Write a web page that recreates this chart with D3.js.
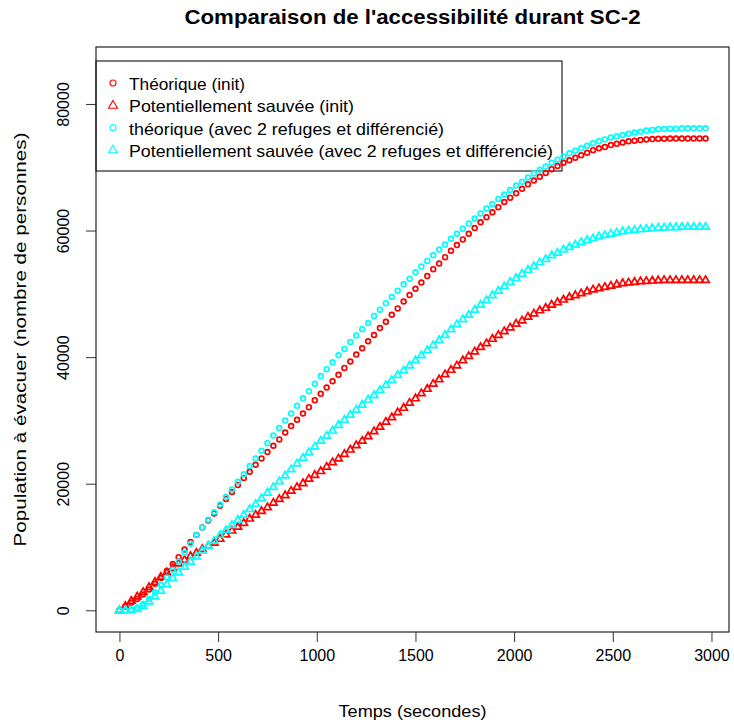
<!doctype html>
<html>
<head>
<meta charset="utf-8">
<script src="https://d3js.org/d3.v7.min.js"></script>
<style>
  body { margin: 0; background: #fff; }
  text { font-family: "Liberation Sans", Arial, sans-serif; fill: #000; }
</style>
</head>
<body>
<svg id="chart" width="734" height="722"></svg>
<script>
// temps (secondes)
var temps = [0,30,60,90,120,150,180,210,240,270,300,330,360,390,420,450,480,510,540,570,
  600,630,660,690,720,750,780,810,840,870,900,930,960,990,1020,1050,1080,1110,1140,1170,
  1200,1230,1260,1290,1320,1350,1380,1410,1440,1470,1500,1530,1560,1590,1620,1650,1680,1710,1740,1770,
  1800,1830,1860,1890,1920,1950,1980,2010,2040,2070,2100,2130,2160,2190,2220,2250,2280,2310,2340,2370,
  2400,2430,2460,2490,2520,2550,2580,2610,2640,2670,2700,2730,2760,2790,2820,2850,2880,2910,2940,2970];

var theoriqueInit = [0,600,1200,1800,2500,3300,4200,5100,6200,7300,8400,9600,10800,11900,13100,14200,15300,16500,17600,18700,
  19800,20900,21900,23000,24000,25000,26000,27000,28100,29100,30100,31100,32100,33200,34200,35200,36200,37200,38300,39300,
  40400,41400,42500,43500,44600,45600,46700,47700,48800,49800,50800,51800,52800,53900,54800,55800,56800,57700,58600,59500,
  60400,61300,62100,62900,63700,64500,65200,65900,66600,67300,67900,68500,69100,69700,70200,70700,71100,71500,71900,72300,
  72700,73000,73200,73500,73700,73900,74100,74200,74300,74400,74450,74500,74500,74550,74550,74550,74550,74550,74550,74550];

var sauveeInit = [0,700,1500,2200,2900,3700,4500,5300,6000,6700,7400,8000,8600,9100,9700,10200,10700,11300,12000,12600,
  13200,13800,14500,15100,15700,16300,17000,17600,18200,18900,19500,20100,20800,21400,22000,22700,23400,24000,24700,25400,
  26100,26800,27500,28300,29000,29800,30500,31300,32000,32800,33500,34300,35000,35800,36500,37300,38000,38700,39500,40200,
  40900,41600,42200,42900,43500,44100,44700,45300,45800,46400,46900,47400,47800,48300,48700,49100,49500,49800,50100,50400,
  50700,50900,51100,51300,51500,51700,51800,51900,52000,52050,52100,52150,52200,52200,52200,52200,52200,52200,52200,52200];

var theoriqueRefuges = [0,0,100,400,1000,1800,2800,4000,5200,6400,7700,9100,10500,11900,13100,14300,15500,16700,17900,19100,
  20300,21500,22800,24000,25200,26400,27600,28800,30000,31100,32300,33500,34600,35800,37000,38100,39200,40300,41300,42400,
  43400,44400,45400,46500,47500,48500,49500,50500,51500,52400,53400,54300,55200,56100,57000,57800,58700,59500,60300,61100,
  61900,62700,63500,64200,65000,65700,66400,67100,67700,68400,69000,69600,70100,70700,71200,71700,72200,72600,73000,73400,
  73800,74100,74400,74700,74900,75100,75300,75500,75600,75800,75900,76000,76050,76100,76100,76150,76150,76150,76150,76150];

var sauveeRefuges = [0,0,0,200,700,1400,2200,3100,4100,5100,6000,6900,7700,8500,9400,10200,11000,11900,12700,13500,
  14300,15100,16000,16800,17700,18600,19500,20400,21300,22300,23200,24100,25000,25900,26800,27600,28400,29300,30100,30900,
  31700,32500,33300,34000,34800,35600,36400,37200,37900,38700,39500,40300,41100,41900,42700,43500,44400,45200,46000,46700,
  47500,48300,49000,49800,50500,51200,51900,52500,53200,53800,54400,55000,55500,56100,56500,57000,57400,57800,58200,58500,
  58800,59100,59300,59500,59700,59900,60000,60100,60200,60300,60400,60450,60500,60550,60550,60600,60600,60600,60600,60600];

var legendLabels = ["Théorique (init)", "Potentiellement sauvée (init)",
  "théorique (avec 2 refuges et différencié)", "Potentiellement sauvée (avec 2 refuges et différencié)"];
var xTicks = [0, 500, 1000, 1500, 2000, 2500, 3000];
var yTicks = [0, 20000, 40000, 60000, 80000];

var series = [
  { values: theoriqueInit, color: "#ff0000", shape: "circle" },
  { values: sauveeInit, color: "#ff0000", shape: "triangle" },
  { values: theoriqueRefuges, color: "#00ffff", shape: "circle" },
  { values: sauveeRefuges, color: "#00ffff", shape: "triangle" }
];

var svg = d3.select("#chart");
var plotL = 96, plotR = 729, plotT = 47, plotB = 632;

var x = d3.scaleLinear().domain([-118.8, 3088.8]).range([plotL, plotR]);
var y = d3.scaleLinear().domain([-3430, 89000]).range([plotB, plotT]);

function triPath(s) {
  // triangle pointing up, like R pch=2
  var h = s * 0.866;
  return "M0," + (-h * 0.62) + "L" + (s / 2) + "," + (h * 0.38) + "L" + (-s / 2) + "," + (h * 0.38) + "Z";
}

// title
svg.append("text")
   .attr("x", (plotL + plotR) / 2)
   .attr("y", 24)
   .attr("text-anchor", "middle")
   .attr("font-size", "20px")
   .attr("font-weight", "bold")
   .attr("textLength", 456)
   .attr("lengthAdjust", "spacingAndGlyphs")
   .text("Comparaison de l'accessibilité durant SC-2");

// axes
var xAxis = svg.append("g")
   .attr("transform", "translate(0," + plotB + ")")
   .call(d3.axisBottom(x).tickValues(xTicks).tickSize(10).tickPadding(8).tickFormat(d3.format("d")));
xAxis.select(".domain").remove();
xAxis.selectAll("text").attr("font-size", "16px").attr("font-family", "Liberation Sans, Arial, sans-serif");
xAxis.selectAll("line").attr("stroke", "#333");

var yAxis = svg.append("g")
   .attr("transform", "translate(" + plotL + ",0)")
   .call(d3.axisLeft(y).tickValues(yTicks).tickSize(10).tickFormat(d3.format("d")));
yAxis.select(".domain").remove();
yAxis.selectAll("line").attr("stroke", "#333");
yAxis.selectAll("text")
   .attr("font-size", "16px")
   .attr("font-family", "Liberation Sans, Arial, sans-serif")
   .attr("text-anchor", "middle")
   .attr("x", 0)
   .attr("transform", "translate(-33,0) rotate(-90)")
   .attr("dy", "0.35em");

// frame
svg.append("rect")
   .attr("x", plotL).attr("y", plotT)
   .attr("width", plotR - plotL).attr("height", plotB - plotT)
   .attr("fill", "none").attr("stroke", "#222").attr("stroke-width", 1.2);

// axis titles
svg.append("text")
   .attr("x", (plotL + plotR) / 2)
   .attr("y", 717)
   .attr("text-anchor", "middle")
   .attr("font-size", "17px")
   .attr("textLength", 148)
   .attr("lengthAdjust", "spacingAndGlyphs")
   .text("Temps (secondes)");

svg.append("text")
   .attr("transform", "translate(26," + ((plotT + plotB) / 2) + ") rotate(-90)")
   .attr("text-anchor", "middle")
   .attr("font-size", "17px")
   .attr("textLength", 414)
   .attr("lengthAdjust", "spacingAndGlyphs")
   .text("Population à évacuer (nombre de personnes)");

// legend
var lg = svg.append("g");
lg.append("rect")
  .attr("x", 96).attr("y", 61).attr("width", 466).attr("height", 110)
  .attr("fill", "none").attr("stroke", "#222").attr("stroke-width", 1.2);
var legendWidths = [116, 225, 315, 424];
legendLabels.forEach(function(lab, i) {
  var ly = 85 + i * 22.3;
  var s = series[i];
  if (s.shape === "circle") {
    lg.append("circle").attr("cx", 113).attr("cy", ly - 2).attr("r", 3)
      .attr("fill", "none").attr("stroke", s.color).attr("stroke-width", 1.1);
  } else {
    lg.append("path").attr("d", triPath(9)).attr("transform", "translate(113," + (ly - 2) + ")")
      .attr("fill", "none").attr("stroke", s.color).attr("stroke-width", 1.1);
  }
  lg.append("text").attr("x", 129).attr("y", ly + 5)
    .attr("font-size", "16.5px")
    .attr("textLength", legendWidths[i])
    .attr("lengthAdjust", "spacingAndGlyphs")
    .text(lab);
});

// points
series.forEach(function(s) {
  var g = svg.append("g");
  if (s.shape === "circle") {
    g.selectAll("circle").data(s.values).enter().append("circle")
     .attr("cx", function(d, i) { return x(temps[i]); })
     .attr("cy", function(d) { return y(d); })
     .attr("r", 2.4)
     .attr("fill", "none").attr("stroke", s.color).attr("stroke-width", 1.7);
  } else {
    g.selectAll("path").data(s.values).enter().append("path")
     .attr("d", triPath(7.5))
     .attr("transform", function(d, i) { return "translate(" + x(temps[i]) + "," + y(d) + ")"; })
     .attr("fill", "none").attr("stroke", s.color).attr("stroke-width", 1.7);
  }
});
</script>
</body>
</html>
